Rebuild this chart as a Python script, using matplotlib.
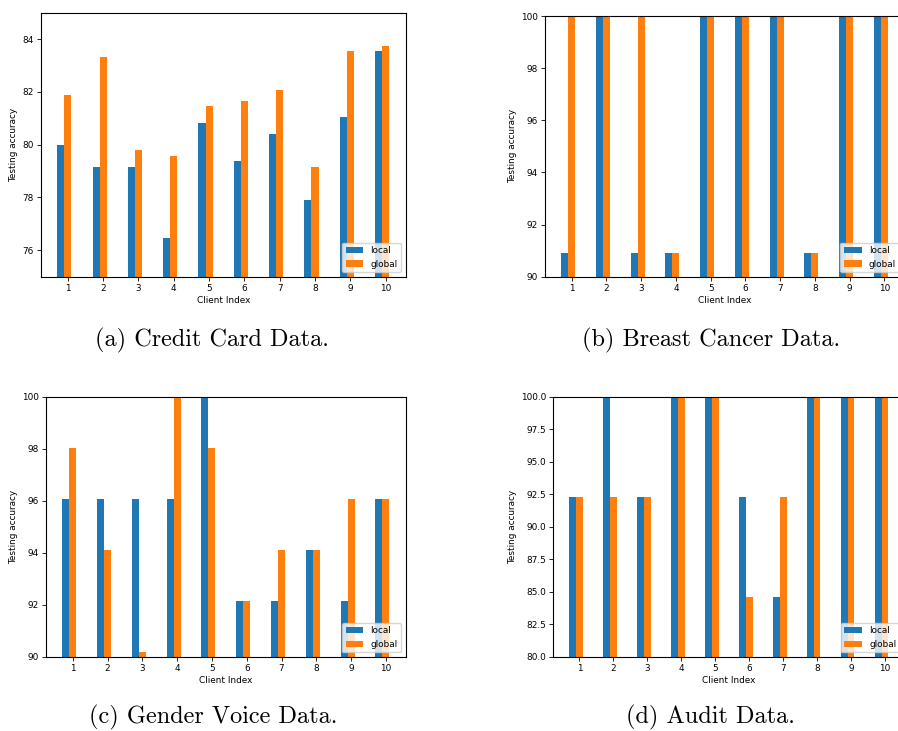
import matplotlib
matplotlib.use("Agg")
import matplotlib.pyplot as plt
import numpy as np

clients = [1, 2, 3, 4, 5, 6, 7, 8, 9, 10]

credit_local = [80.00, 79.17, 79.17, 76.48, 80.83, 79.39, 80.42, 77.92, 81.06, 83.56]
credit_global = [81.89, 83.33, 79.81, 79.58, 81.48, 81.67, 82.08, 79.17, 83.56, 83.75]

cancer_local = [90.91, 100, 90.91, 90.91, 100, 100, 100, 90.91, 100, 100]
cancer_global = [100, 100, 100, 90.91, 100, 100, 100, 90.91, 100, 100]

voice_local = [96.08, 96.08, 96.08, 96.08, 100, 92.16, 92.16, 94.12, 92.16, 96.08]
voice_global = [98.04, 94.12, 90.20, 100, 98.04, 92.16, 94.12, 94.12, 96.08, 96.08]

audit_local = [92.31, 100, 92.31, 100, 100, 92.31, 84.62, 100, 100, 100]
audit_global = [92.31, 92.31, 92.31, 100, 100, 84.62, 92.31, 100, 100, 100]

captions = ["(a) Credit Card Data.", "(b) Breast Cancer Data.",
            "(c) Gender Voice Data.", "(d) Audit Data."]

panels = [
    (credit_local, credit_global, (75, 85), [76, 78, 80, 82, 84], "{:.0f}"),
    (cancer_local, cancer_global, (90, 100), [90, 92, 94, 96, 98, 100], "{:.0f}"),
    (voice_local, voice_global, (90, 100), [90, 92, 94, 96, 98, 100], "{:.0f}"),
    (audit_local, audit_global, (80, 100), list(np.arange(80, 100.1, 2.5)), "{:.1f}"),
]

# axes rectangles in figure fractions
rects = [
    [0.0453, 0.6215, 0.4065, 0.3612],
    [0.6069, 0.6215, 0.3998, 0.3566],
    [0.0512, 0.1016, 0.4006, 0.3557],
    [0.6162, 0.1016, 0.3908, 0.3557],
]
caption_pos = [(0.2357, 0.5267), (0.7918, 0.5267), (0.2375, 0.0105), (0.7906, 0.0105)]

fs = 6.4
fig = plt.figure(figsize=(8.98, 7.31), dpi=100)

x = np.array(clients, dtype=float)
w = 0.2
for (loc, glob, ylim, yticks, fmt), rect, cap, cpos in zip(panels, rects, captions, caption_pos):
    ax = fig.add_axes(rect)
    ax.bar(x - w, loc, width=w, color="#1f77b4", label="local")
    ax.bar(x, glob, width=w, color="#ff7f0e", label="global")
    ax.set_ylim(*ylim)
    ax.set_yticks(yticks)
    ax.set_yticklabels([fmt.format(v) for v in yticks])
    ax.set_xticks(x)
    ax.set_xticklabels([str(c) for c in clients])
    ax.tick_params(labelsize=fs, length=2.6, width=0.6, pad=2.5)
    ax.set_xlabel("Client Index", fontsize=fs, labelpad=2)
    ax.set_ylabel("Testing accuracy", fontsize=fs, labelpad=3)
    for s in ax.spines.values():
        s.set_linewidth(0.8)
    ax.legend(loc="lower right", fontsize=fs, handlelength=2.0,
              borderaxespad=0.5, framealpha=0.8)
    fig.text(cpos[0], cpos[1], cap, ha="center", va="baseline",
             fontsize=17.5, family="cmr10")

fig.savefig("out.png", dpi=100)
